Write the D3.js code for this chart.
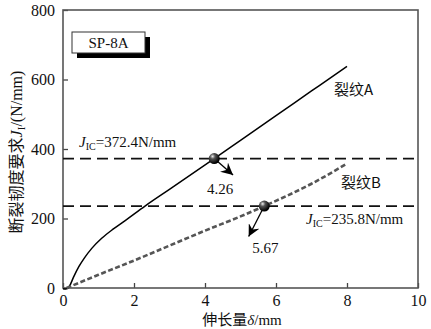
<!DOCTYPE html>
<html>
<head>
<meta charset="utf-8">
<script src="https://cdn.jsdelivr.net/npm/d3@7"></script>
<style>
  html, body { margin: 0; padding: 0; background: #fff; }
  svg { display: block; }
  text { font-family: "Liberation Serif", "Times New Roman", "Noto Sans CJK SC", serif; fill: #111; }
</style>
</head>
<body>
<svg id="chart" width="431" height="329"></svg>
<script>
// Elongation (mm) vs. fracture toughness requirement J_I (N/mm)
const crackA = [
  [0, -2], [0.08, -3], [0.18, 5], [0.3, 32], [0.45, 62], [0.6, 86], [0.81, 114],
  [1.09, 143], [1.42, 170], [1.79, 197], [2.31, 235.8], [3.06, 288], [4.26, 372.4],
  [5, 425], [6, 496], [7, 567], [8, 638]
];
const crackB = [
  [0.1, 0], [1, 38], [2, 79], [3, 122], [4, 165], [5, 206], [5.67, 235.8],
  [7, 300], [8, 358]
];
const xTicks = [0, 2, 4, 6, 8, 10];
const yTicks = [0, 200, 400, 600, 800];
const jicValues = [372.4, 235.8];
// critical points: [delta, J], arrow tip [delta, J], label
const critical = [
  { pt: [4.26, 372.4], tip: [4.79, 325], label: "4.26" },
  { pt: [5.67, 235.8], tip: [5.23, 148], label: "5.67" }
];

const svg = d3.select("#chart");
const m = { left: 63, right: 13, top: 10, bottom: 41 };
const W = 431, H = 329;
const x = d3.scaleLinear().domain([0, 10]).range([m.left, W - m.right]);
const y = d3.scaleLinear().domain([0, 800]).range([H - m.bottom, m.top]);

const defs = svg.append("defs");
const grad = defs.append("radialGradient").attr("id", "ball")
  .attr("cx", "35%").attr("cy", "30%").attr("r", "65%");
grad.append("stop").attr("offset", "0%").attr("stop-color", "#eee");
grad.append("stop").attr("offset", "35%").attr("stop-color", "#555");
grad.append("stop").attr("offset", "100%").attr("stop-color", "#000");
defs.append("marker").attr("id", "arrow")
  .attr("viewBox", "-12 -6 14 12").attr("refX", 0).attr("refY", 0)
  .attr("markerWidth", 14).attr("markerHeight", 12)
  .attr("markerUnits", "userSpaceOnUse").attr("orient", "auto")
  .append("path").attr("d", "M0,0 L-12,-6 L-8,0 L-12,6 Z").attr("fill", "#000");

// axes
const gx = svg.append("g").attr("transform", `translate(0,${y(0)})`)
  .call(d3.axisBottom(x).tickValues(xTicks).tickSize(-5).tickPadding(7).tickFormat(d3.format("d")));
const gy = svg.append("g").attr("transform", `translate(${x(0)},0)`)
  .call(d3.axisLeft(y).tickValues(yTicks).tickSize(-5).tickPadding(8).tickFormat(d3.format("d")));
[gx, gy].forEach(g => {
  g.attr("font-family", null);
  g.select(".domain").remove();
  g.selectAll(".tick line").attr("stroke", "#444").attr("stroke-width", 1.3);
  g.selectAll(".tick text").style("font-size", "16px").attr("fill", "#111");
});
// frame
svg.append("rect").attr("x", x(0)).attr("y", y(800))
  .attr("width", x(10) - x(0)).attr("height", y(0) - y(800))
  .attr("fill", "none").attr("stroke", "#555").attr("stroke-width", 1.6);

// J_IC reference lines
svg.selectAll(".jic").data(jicValues).join("line").attr("class", "jic")
  .attr("x1", x(0)).attr("x2", x(10)).attr("y1", d => y(d)).attr("y2", d => y(d))
  .attr("stroke", "#111").attr("stroke-width", 1.8).attr("stroke-dasharray", "11,6");

const line = d3.line().x(d => x(d[0])).y(d => y(d[1])).curve(d3.curveMonotoneX);
svg.append("path").datum(crackA).attr("d", line)
  .attr("fill", "none").attr("stroke", "#000").attr("stroke-width", 1.5);
svg.append("path").datum(crackB).attr("d", line)
  .attr("fill", "none").attr("stroke", "#555").attr("stroke-width", 2.6).attr("stroke-dasharray", "5,2.5");

// arrows and critical-point markers
svg.selectAll(".arr").data(critical).join("line").attr("class", "arr")
  .attr("x1", d => x(d.pt[0])).attr("y1", d => y(d.pt[1]))
  .attr("x2", d => x(d.tip[0])).attr("y2", d => y(d.tip[1]))
  .attr("stroke", "#000").attr("stroke-width", 1.3).attr("marker-end", "url(#arrow)");
svg.selectAll(".ball").data(critical).join("circle").attr("class", "ball")
  .attr("cx", d => x(d.pt[0])).attr("cy", d => y(d.pt[1])).attr("r", 5.5)
  .attr("fill", "url(#ball)");

// value labels
svg.append("text").attr("x", x(4.26) + 6).attr("y", y(372.4) + 35)
  .attr("text-anchor", "middle").style("font-size", "15px").text(critical[0].label);
svg.append("text").attr("x", x(5.67) + 1).attr("y", y(235.8) + 47)
  .attr("text-anchor", "middle").style("font-size", "15px").text(critical[1].label);

// J_IC labels
function jic(xp, yp, val) {
  const t = svg.append("text").attr("x", xp).attr("y", yp).style("font-size", "15px");
  t.append("tspan").style("font-style", "italic").text("J");
  t.append("tspan").attr("dy", 3).style("font-size", "10px").text("IC");
  t.append("tspan").attr("dy", -3).text("=" + val + "N/mm");
}
jic(79, y(372.4) - 12, "372.4");
jic(306, y(235.8) + 18, "235.8");

// curve names
svg.append("text").attr("x", 334).attr("y", 95).style("font-size", "15px")
  .style("font-family", "Noto Sans CJK SC").text("裂纹A");
svg.append("text").attr("x", 341).attr("y", 188).style("font-size", "15px")
  .style("font-family", "Noto Sans CJK SC").text("裂纹B");

// specimen tag
svg.append("rect").attr("x", 77).attr("y", 37).attr("width", 73).attr("height", 21).attr("fill", "#000");
svg.append("rect").attr("x", 72).attr("y", 32).attr("width", 73).attr("height", 21)
  .attr("fill", "#fff").attr("stroke", "#333").attr("stroke-width", 1);
svg.append("text").attr("x", 108.5).attr("y", 48).attr("text-anchor", "middle")
  .style("font-size", "15px").text("SP-8A");

// axis titles
const xt = svg.append("text").attr("x", 242).attr("y", 325).attr("text-anchor", "middle")
  .style("font-size", "15px");
xt.append("tspan").style("font-family", "Noto Sans CJK SC").text("伸长量");
xt.append("tspan").style("font-style", "italic").text("δ");
xt.append("tspan").text("/mm");

const yt = svg.append("text").attr("transform", "translate(22,152) rotate(-90)")
  .attr("text-anchor", "middle").style("font-size", "16px");
yt.append("tspan").style("font-family", "Noto Sans CJK SC").text("断裂韧度要求");
yt.append("tspan").style("font-style", "italic").text("J");
yt.append("tspan").attr("dy", 3).style("font-size", "11px").text("I");
yt.append("tspan").attr("dy", -3).text("/(N/mm)");
</script>
</body>
</html>
